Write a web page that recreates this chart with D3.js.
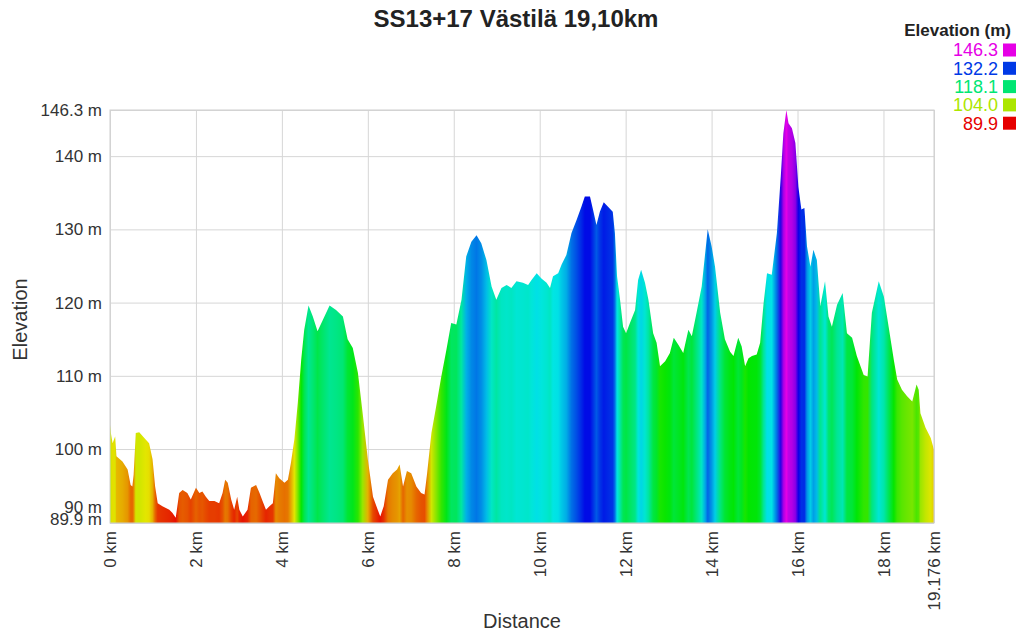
<!DOCTYPE html>
<html>
<head>
<meta charset="utf-8">
<script src="https://cdn.jsdelivr.net/npm/d3@7"></script>
<style>
  body { margin: 0; background: #fff; }
  svg { font-family: "Liberation Sans", Arial, sans-serif; }
  .grid line { stroke: #d6d6d6; }
  .grid path { stroke: none; }
  .axis text { fill: #333; font-size: 17px; }
</style>
</head>
<body>
<svg class="chart"></svg>
<script>
const margin = {top: 110, bottom: 108, right: 90, left: 110};
var width = 1024 - margin.left - margin.right;
var height = 631 - margin.top - margin.bottom;

// profile: distance (km) / elevation (m)
var distance = [0, 0.02, 0.06, 0.12, 0.15, 0.29, 0.41, 0.48, 0.52, 0.55, 0.60, 0.68, 0.83, 0.91, 0.99,
  1.05, 1.11, 1.22, 1.38, 1.45, 1.53, 1.61, 1.69, 1.80, 1.88, 2.00, 2.08, 2.15, 2.23, 2.31, 2.43,
  2.54, 2.62, 2.68, 2.74, 2.82, 2.89, 2.96, 3.01, 3.09, 3.20, 3.28, 3.40, 3.48, 3.55, 3.63, 3.71,
  3.79, 3.86, 3.94, 4.06, 4.14, 4.21, 4.29, 4.37, 4.45, 4.52, 4.62, 4.72, 4.83, 4.95, 5.11, 5.26,
  5.42, 5.53, 5.65, 5.77, 5.88, 6.00, 6.12, 6.23, 6.29, 6.37, 6.47, 6.58, 6.68, 6.74, 6.82, 6.91,
  7.01, 7.13, 7.24, 7.32, 7.38, 7.48, 7.59, 7.71, 7.83, 7.94, 8.06, 8.18, 8.29, 8.41, 8.53, 8.64,
  8.76, 8.88, 8.99, 9.11, 9.23, 9.34, 9.46, 9.61, 9.73, 9.81, 9.93, 10.04, 10.16, 10.24, 10.31,
  10.43, 10.51, 10.62, 10.74, 10.86, 10.97, 11.05, 11.17, 11.24, 11.32, 11.40, 11.49, 11.59, 11.70,
  11.75, 11.80, 11.87, 11.94, 12.01, 12.10, 12.22, 12.29, 12.36, 12.45, 12.53, 12.64, 12.72, 12.80,
  12.92, 13.03, 13.12, 13.23, 13.34, 13.46, 13.54, 13.65, 13.77, 13.85, 13.91, 14.00, 14.08, 14.20,
  14.31, 14.43, 14.51, 14.62, 14.70, 14.78, 14.86, 14.94, 15.05, 15.13, 15.21, 15.29, 15.40, 15.52,
  15.61, 15.67, 15.74, 15.79, 15.87, 15.95, 16.02, 16.09, 16.16, 16.22, 16.30, 16.37, 16.45, 16.53,
  16.64, 16.72, 16.80, 16.92, 17.05, 17.15, 17.27, 17.38, 17.54, 17.63, 17.73, 17.89, 18.01, 18.12,
  18.24, 18.32, 18.43, 18.55, 18.67, 18.77, 18.82, 18.86, 18.98, 19.10, 19.176];

var elevation = [103.3, 102.2, 100.8, 101.7, 99.0, 98.3, 97.2, 95.1, 94.9, 96.5, 102.2, 102.3, 101.3, 100.8, 98.6,
  94.9, 92.6, 92.2, 91.7, 91.3, 90.6, 94.0, 94.4, 94.0, 93.1, 94.7, 94.0, 94.2, 93.5, 92.9, 92.9,
  92.6, 94.0, 95.8, 95.4, 93.1, 91.7, 93.5, 91.7, 90.8, 91.7, 94.7, 95.1, 94.0, 92.9, 91.7, 92.2,
  92.6, 96.7, 96.0, 95.4, 95.8, 98.1, 101.3, 106.3, 112.2, 116.3, 119.6, 118.1, 116.1, 117.6, 119.6, 119.0,
  118.1, 115.0, 113.8, 110.4, 104.9, 98.6, 93.5, 91.7, 90.8, 92.2, 95.8, 96.7, 97.2, 97.9, 94.9, 97.0,
  96.7, 94.9, 94.0, 93.8, 96.7, 102.2, 105.8, 109.9, 113.6, 117.2, 117.0, 120.4, 126.3, 128.3, 129.2, 128.1,
  125.8, 122.2, 120.4, 122.0, 122.4, 122.0, 122.9, 122.7, 122.4, 123.1, 124.0, 123.3, 122.7, 122.0, 123.6,
  124.0, 125.2, 126.5, 129.5, 131.3, 133.1, 134.5, 134.5, 132.7, 130.6, 132.4, 133.7, 133.1, 132.4,
  129.5, 123.6, 120.4, 116.7, 115.8, 117.2, 119.0, 123.1, 124.5, 122.7, 120.4, 115.8, 114.5, 111.3,
  112.0, 113.1, 115.2, 114.2, 113.1, 116.3, 115.4, 118.6, 122.2, 126.7, 130.0, 127.7, 124.9, 118.6,
  115.0, 113.3, 112.7, 115.2, 114.0, 111.3, 112.4, 112.7, 112.9, 114.5, 119.9, 124.0, 123.8, 129.5,
  137.2, 143.1, 146.3, 144.5, 143.8, 141.8, 135.8, 132.7, 132.9, 127.7, 124.9, 127.2, 125.8, 119.5,
  122.9, 118.1, 116.7, 119.7, 121.3, 115.8, 115.2, 112.7, 110.1, 109.9, 118.6, 122.9, 120.8, 116.7,
  112.2, 109.5, 108.1, 107.2, 106.5, 108.8, 108.1, 104.9, 102.9, 101.5, 99.9];

var xTicks = [0, 2, 4, 6, 8, 10, 12, 14, 16, 18, 19.176];
var yTicks = [89.9, 90, 100, 110, 120, 130, 140, 146.3];
var legendValues = [146.3, 132.2, 118.1, 104.0, 89.9];

var data = distance.map((d, i) => ({dist: d, elev: elevation[i]}));

const svg = d3.select('.chart')
  .attr('width', width + margin.left + margin.right)
  .attr('height', height + margin.top + margin.bottom);

const chart = svg.append('g')
  .attr('transform', 'translate(' + margin.left + ',' + margin.top + ')');

var x = d3.scaleLinear()
  .domain([0, 19.176])
  .range([0, width]);

var y = d3.scaleLinear()
  .domain([89.9, 146.3])
  .range([height, 0]);

// colour follows elevation: red -> yellow -> green -> blue -> magenta
var hue = d3.scaleLinear()
  .domain([89.9, 146.3])
  .range([0, 300]);
var color = (e) => d3.hsl(hue(e), 1, 0.45).formatHex();

/** grid + axes **/
var yAxis = chart.append('g')
  .attr('class', 'grid axis')
  .call(d3.axisLeft(y)
    .tickValues(yTicks)
    .tickSize(-width)
    .tickPadding(8)
    .tickFormat((d) => d + ' m'));

// the two bottom labels sit on top of each other, nudge them apart
yAxis.selectAll('.tick text')
  .attr('dy', (d) => d === 90 ? '-0.55em' : d === 89.9 ? '0.08em' : '0.32em');

var xAxis = chart.append('g')
  .attr('class', 'grid axis')
  .attr('transform', 'translate(0,' + height + ')')
  .call(d3.axisBottom(x)
    .tickValues(xTicks)
    .tickSize(-height)
    .tickFormat((d) => d + ' km'));

xAxis.selectAll('.tick text')
  .attr('transform', 'rotate(-90)')
  .attr('text-anchor', 'end')
  .attr('x', -8)
  .attr('y', 0)
  .attr('dy', '0.35em');

/** profile **/
var grad = svg.append('defs').append('linearGradient')
  .attr('id', 'elevGrad')
  .attr('gradientUnits', 'userSpaceOnUse')
  .attr('x1', 0).attr('x2', width)
  .attr('y1', 0).attr('y2', 0);

grad.selectAll('stop')
  .data(data)
  .enter()
  .append('stop')
    .attr('offset', (d) => x(d.dist) / width)
    .attr('stop-color', (d) => color(d.elev));

var area = d3.area()
  .x((d) => x(d.dist))
  .y0(height)
  .y1((d) => y(d.elev));

chart.append('path')
  .datum(data)
  .attr('fill', 'url(#elevGrad)')
  .attr('d', area);

chart.append('rect')
  .attr('width', width)
  .attr('height', height)
  .attr('fill', 'none')
  .attr('stroke', '#cfcfcf');

/** titles **/
svg.append('text')
  .attr('x', 516)
  .attr('y', 27)
  .attr('text-anchor', 'middle')
  .attr('font-size', 24)
  .attr('font-weight', 'bold')
  .attr('fill', '#222')
  .text('SS13+17 Västilä 19,10km');

svg.append('text')
  .attr('transform', 'translate(27,' + (margin.top + height / 2 + 3) + ') rotate(-90)')
  .attr('text-anchor', 'middle')
  .attr('font-size', 20)
  .attr('fill', '#333')
  .text('Elevation');

svg.append('text')
  .attr('x', margin.left + width / 2)
  .attr('y', 628)
  .attr('text-anchor', 'middle')
  .attr('font-size', 20)
  .attr('fill', '#333')
  .text('Distance');

/** legend **/
var legend = svg.append('g');

legend.append('text')
  .attr('x', 1011)
  .attr('y', 36)
  .attr('text-anchor', 'end')
  .attr('font-size', 17)
  .attr('font-weight', 'bold')
  .attr('fill', '#222')
  .text('Elevation (m)');

var rows = legend.selectAll('.row')
  .data(legendValues)
  .enter()
  .append('g')
    .attr('transform', (d, i) => 'translate(0,' + (50 + i * 18.3) + ')');

rows.append('rect')
  .attr('x', 1003)
  .attr('y', -6.5)
  .attr('width', 13)
  .attr('height', 13)
  .attr('fill', (d) => color(d));

rows.append('text')
  .attr('x', 998)
  .attr('dy', '0.36em')
  .attr('text-anchor', 'end')
  .attr('font-size', 18)
  .attr('fill', (d) => color(d))
  .text((d) => d.toFixed(1));
</script>
</body>
</html>
